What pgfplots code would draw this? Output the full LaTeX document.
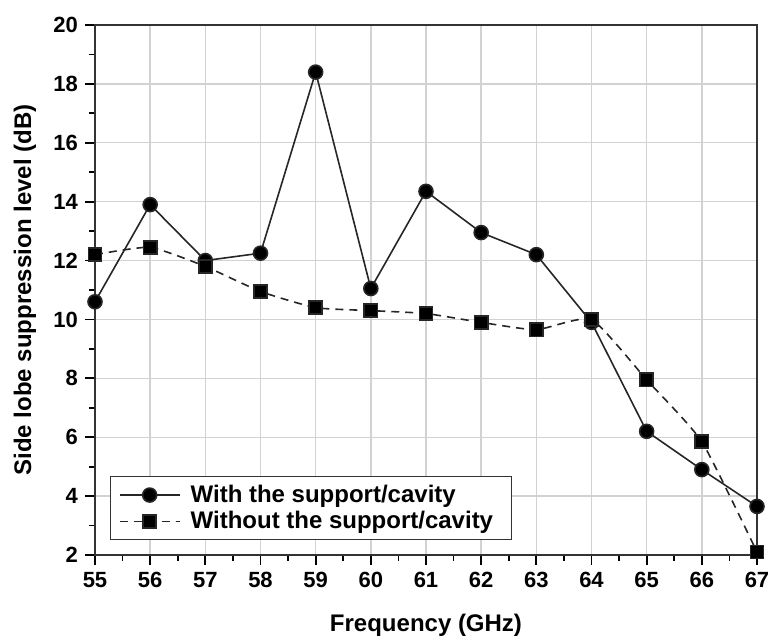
\documentclass[border=0pt]{standalone}
\usepackage{pgfplots}
\pgfplotsset{compat=1.18}
\usepackage{fontspec}
\setmainfont{Liberation Sans}
\begin{document}
\begin{tikzpicture}
\begin{axis}[
  width=331pt, height=265pt, scale only axis,
  xmin=55, xmax=67, ymin=2, ymax=20,
  xtick={55,...,67}, ytick={2,4,...,20},
  minor x tick num=1, minor y tick num=1,
  tick pos=left, tick align=outside,
  major tick length=5pt, minor tick length=3pt,
  every tick/.style={black, line width=0.9pt},
  grid=major, major grid style={gray!35, line width=0.7pt},
  axis line style={line width=1.1pt, black!80},
  /pgf/number format/assume math mode=true,
  tick label style={font=\bfseries\fontsize{11}{13}\selectfont},
  xlabel={Frequency (GHz)}, ylabel={Side lobe suppression level (dB)},
  label style={font=\bfseries\fontsize{12}{14}\selectfont},
  xlabel style={at={(0.5,0)}, anchor=center, yshift=-35pt},
  ylabel style={at={(0,0.5)}, anchor=center, yshift=35pt},
  legend style={font=\bfseries\fontsize{12}{14}\selectfont, draw=black!80, line width=0.5pt,
    at={(0.023,0.028)}, anchor=south west, row sep=-1pt, inner xsep=4pt, inner ysep=2pt,
    nodes={inner xsep=5pt}},
  legend cell align=left,
  legend image code/.code={\draw[mark repeat=2, mark phase=2, #1] plot coordinates {(0cm,0cm) (0.53cm,0cm) (1.06cm,0cm)};},
]
\addplot[black!85, line width=0.8pt, mark=*, mark size=3.5pt, mark options={solid, fill=black}] coordinates {
  (55,10.6) (56,13.9) (57,12.0) (58,12.25) (59,18.4) (60,11.05) (61,14.35)
  (62,12.95) (63,12.2) (64,9.9) (65,6.2) (66,4.9) (67,3.65)};
\addlegendentry{With the support/cavity}
\addplot[black!85, line width=0.8pt, dash pattern=on 4pt off 3pt, smooth, tension=0.3, mark=square*, mark size=3.3pt, mark options={solid, fill=black}] coordinates {
  (55,12.2) (56,12.45) (57,11.8) (58,10.95) (59,10.4) (60,10.3) (61,10.2)
  (62,9.9) (63,9.65) (64,10.0) (65,7.95) (66,5.85) (67,2.1)};
\addlegendentry{Without the support/cavity}
\coordinate (sw) at (rel axis cs:0,0);
\coordinate (ne) at (rel axis cs:1,1);
\end{axis}
\pgfresetboundingbox
\path ([xshift=-47.5pt,yshift=-43.5pt]sw) rectangle ([xshift=7.5pt,yshift=12.5pt]ne);
\end{tikzpicture}
\end{document}
